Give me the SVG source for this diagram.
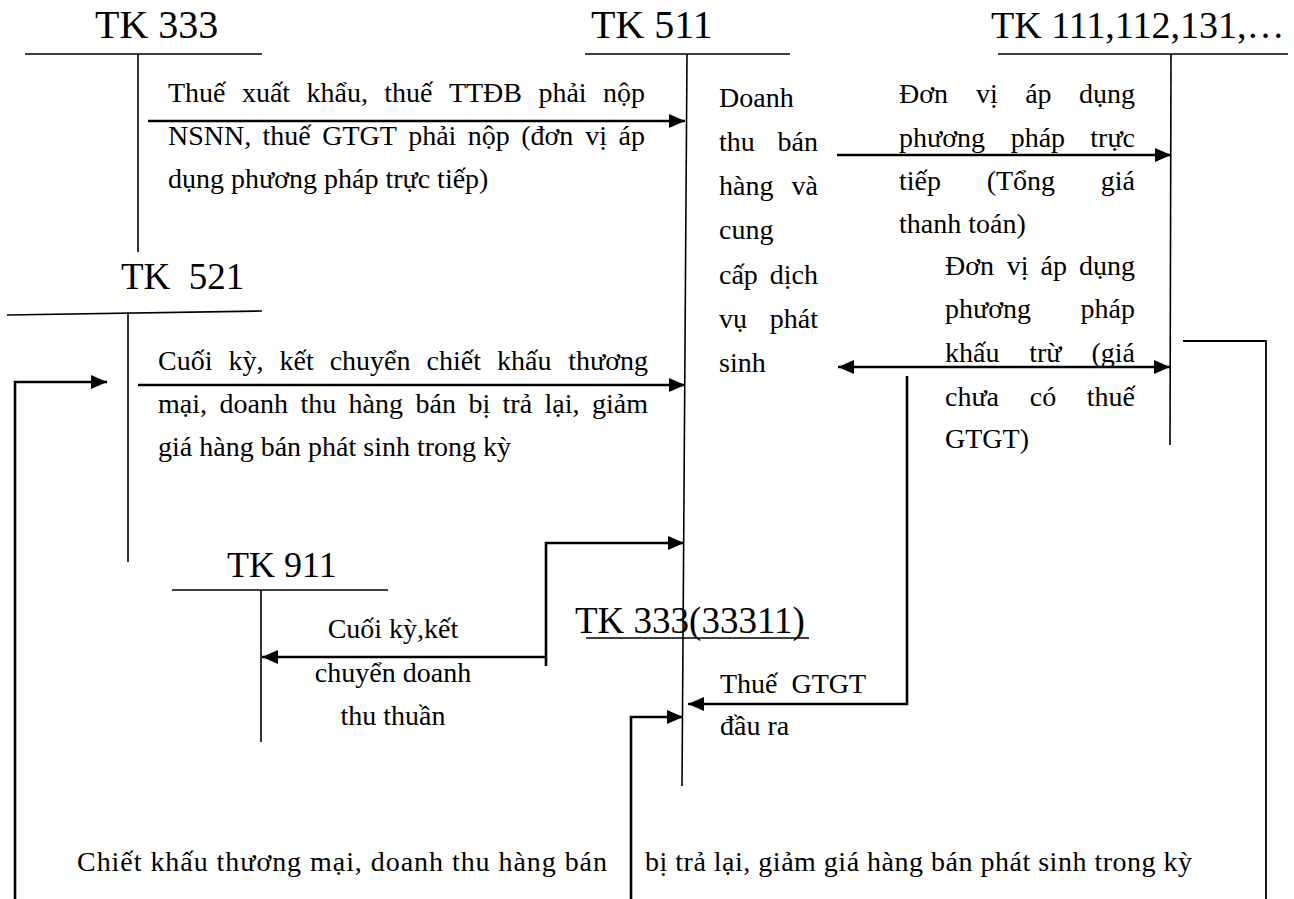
<svg xmlns="http://www.w3.org/2000/svg" width="1294" height="899" viewBox="0 0 1294 899">
<style>
text{font-family:"Liberation Serif","Times New Roman",serif;fill:#000}
.t{font-size:37px}
.b{font-size:28px}
.ac{stroke:#000;stroke-width:1.6;fill:none}
.cn{stroke:#000;stroke-width:2.6;fill:none}
.ln{stroke:#000;stroke-width:1.8;fill:none}
</style>
<defs>
<marker id="ah" markerUnits="userSpaceOnUse" markerWidth="16" markerHeight="14" refX="16" refY="7" orient="auto-start-reverse" viewBox="0 0 16 14">
<path d="M0,0 L16,7 L0,14 z" fill="#000"/>
</marker>
</defs>
<rect width="1294" height="899" fill="#fff"/>

<g id="tk333">
<text class="t" x="95" y="38" style="font-size:40px">TK 333</text>
<line class="ac" x1="25" y1="54" x2="262" y2="54"/>
<line class="ac" x1="138" y1="54" x2="138" y2="252"/>
</g>
<g id="tk511">
<text class="t" x="591" y="38" style="font-size:40px">TK 511</text>
<line class="ac" x1="585" y1="54" x2="790" y2="54"/>
<line class="ac" x1="687" y1="54" x2="682" y2="786"/>
</g>
<g id="tk111">
<text class="t" x="991" y="38" style="font-size:38px">TK 111,112,131,…</text>
<line class="ac" x1="998" y1="54" x2="1288" y2="54"/>
<line class="ac" x1="1171" y1="54" x2="1170" y2="445"/>
</g>
<g id="tk521">
<text class="t" x="121" y="289" xml:space="preserve">TK  521</text>
<line class="ac" x1="7" y1="315" x2="262" y2="311"/>
<line class="ac" x1="128" y1="312" x2="128" y2="562"/>
</g>
<g id="tk911">
<text class="t" x="227" y="577" style="font-size:36px">TK 911</text>
<line class="ac" x1="172" y1="590" x2="388" y2="590"/>
<line class="ac" x1="261" y1="590" x2="261" y2="742"/>
</g>
<g id="tk33311">
<text class="t" x="575" y="633">TK 333(33311)</text>
<line class="ac" x1="586" y1="638" x2="809" y2="638"/>
</g>

<g id="connectors">
<path class="cn" d="M148,121 H685" marker-end="url(#ah)"/>
<path class="cn" d="M138,385 H685" marker-end="url(#ah)"/>
<path class="cn" d="M15,899 V382 H107" marker-end="url(#ah)"/>
<path class="cn" d="M546,666 V543 H684" marker-end="url(#ah)"/>
<path class="cn" d="M546,657 H262" marker-end="url(#ah)"/>
<path class="cn" d="M837,155 H1171" marker-end="url(#ah)"/>
<path class="cn" d="M838,367 H1170" marker-start="url(#ah)" marker-end="url(#ah)"/>
<path class="cn" d="M907,376 V704 H688" marker-end="url(#ah)"/>
<path class="cn" d="M631,899 V717 H683" marker-end="url(#ah)"/>
<path class="ln" d="M1183,341 H1266 V899"/>
</g>

<g id="labels">
<text class="b" y="102"><tspan x="168">Thuế</tspan><tspan x="241.9">xuất</tspan><tspan x="306.5">khẩu,</tspan><tspan x="384.3">thuế</tspan><tspan x="448.9">TTĐB</tspan><tspan x="538.4">phải</tspan><tspan x="645" text-anchor="end">nộp</tspan></text>
<text class="b" y="145"><tspan x="168">NSNN,</tspan><tspan x="262.6">thuế</tspan><tspan x="322.2">GTGT</tspan><tspan x="408.2">phải</tspan><tspan x="467.8">nộp</tspan><tspan x="521.2">(đơn</tspan><tspan x="585.3">vị</tspan><tspan x="645" text-anchor="end">áp</tspan></text>
<text class="b" x="168" y="188">dụng phương pháp trực tiếp)</text>

<text class="b" y="370"><tspan x="158">Cuối</tspan><tspan x="228.5">kỳ,</tspan><tspan x="279.5">kết</tspan><tspan x="329.7">chuyển</tspan><tspan x="426.6">chiết</tspan><tspan x="497">khấu</tspan><tspan x="648" text-anchor="end">thương</tspan></text>
<text class="b" y="413"><tspan x="158">mại,</tspan><tspan x="219.5">doanh</tspan><tspan x="300.4">thu</tspan><tspan x="348.6">hàng</tspan><tspan x="415.5">bán</tspan><tspan x="468.4">bị</tspan><tspan x="502.6">trả</tspan><tspan x="544.6">lại,</tspan><tspan x="648" text-anchor="end">giảm</tspan></text>
<text class="b" x="158" y="456">giá hàng bán phát sinh trong kỳ</text>

<text class="b" x="719" y="107">Doanh</text>
<text class="b" y="151"><tspan x="719">thu</tspan><tspan x="818" text-anchor="end">bán</tspan></text>
<text class="b" y="195"><tspan x="719">hàng</tspan><tspan x="818" text-anchor="end">và</tspan></text>
<text class="b" x="719" y="239">cung</text>
<text class="b" y="284"><tspan x="719">cấp</tspan><tspan x="818" text-anchor="end">dịch</tspan></text>
<text class="b" y="328"><tspan x="719">vụ</tspan><tspan x="818" text-anchor="end">phát</tspan></text>
<text class="b" x="719" y="372">sinh</text>

<text class="b" y="103"><tspan x="899">Đơn</tspan><tspan x="976">vị</tspan><tspan x="1025.2">áp</tspan><tspan x="1135" text-anchor="end">dụng</tspan></text>
<text class="b" y="147"><tspan x="899">phương</tspan><tspan x="1010.7">pháp</tspan><tspan x="1135" text-anchor="end">trực</tspan></text>
<text class="b" y="190"><tspan x="899">tiếp</tspan><tspan x="986.7">(Tổng</tspan><tspan x="1135" text-anchor="end">giá</tspan></text>
<text class="b" x="899" y="233">thanh toán)</text>

<text class="b" y="275"><tspan x="945">Đơn</tspan><tspan x="1006.7">vị</tspan><tspan x="1040.6">áp</tspan><tspan x="1135" text-anchor="end">dụng</tspan></text>
<text class="b" y="318"><tspan x="945">phương</tspan><tspan x="1135" text-anchor="end">pháp</tspan></text>
<text class="b" y="362"><tspan x="945">khấu</tspan><tspan x="1029.2">trừ</tspan><tspan x="1135" text-anchor="end">(giá</tspan></text>
<text class="b" y="406"><tspan x="945">chưa</tspan><tspan x="1029.8">có</tspan><tspan x="1135" text-anchor="end">thuế</tspan></text>
<text class="b" x="945" y="448">GTGT)</text>

<text class="b" x="393" y="638" text-anchor="middle">Cuối kỳ,kết</text>
<text class="b" x="393" y="682" text-anchor="middle">chuyển doanh</text>
<text class="b" x="393" y="725" text-anchor="middle">thu thuần</text>

<text class="b" x="720" y="693" xml:space="preserve">Thuế  GTGT</text>
<text class="b" x="720" y="735">đầu ra</text>

<text class="b" x="77" y="871" textLength="530" lengthAdjust="spacing">Chiết khấu thương mại, doanh thu hàng bán</text>
<text class="b" x="645" y="871" textLength="547" lengthAdjust="spacing">bị trả lại, giảm giá hàng bán phát sinh trong kỳ</text>
</g>
</svg>
